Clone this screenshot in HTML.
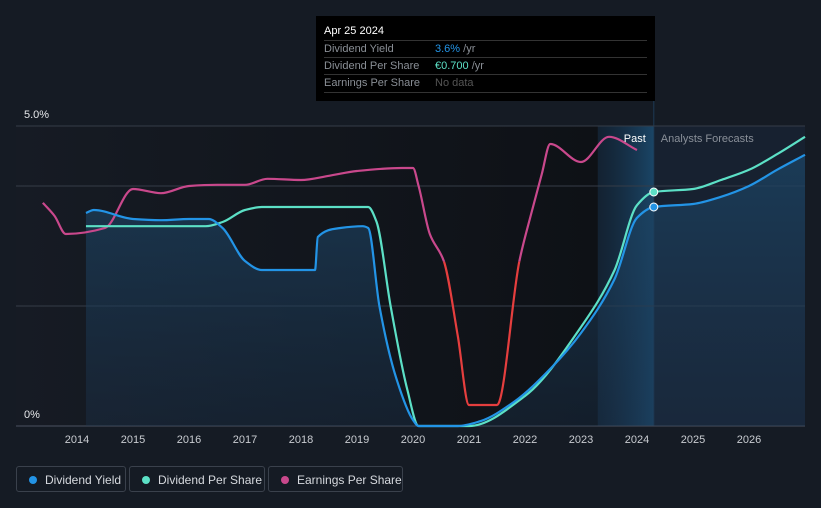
<!DOCTYPE html>
<html><head><meta charset="utf-8"><style>
body{margin:0;background:#151b24;width:821px;height:508px;overflow:hidden;font-family:"Liberation Sans",sans-serif}
#wrap{position:relative;width:821px;height:508px}
.tt{position:absolute;left:316px;top:16px;width:339px;height:85px;background:#000;color:#fff;font-size:11px}
.tt .h{position:absolute;left:8px;top:9px;font-size:11px}
.row{position:absolute;left:8px;width:323px;height:17px;border-top:1px solid #333;color:#8a8f96}
.row span{position:absolute;left:111px;top:2px}
.row b{font-weight:normal;position:absolute;left:0;top:2px}
.leg{position:absolute;top:466px;height:26px;border:1px solid #3a414c;border-radius:3px;color:#d6d9de;font-size:12px;line-height:26px;box-sizing:border-box}
.leg i{position:absolute;left:12px;top:9px;width:8px;height:8px;border-radius:50%}
.leg span{position:absolute;left:28px;top:0}
</style></head><body><div id="wrap">
<svg id="svg" width="821" height="508" style="position:absolute;left:0;top:0"></svg>
<div class="tt">
<div class="h">Apr 25 2024</div>
<div class="row" style="top:24px"><b>Dividend Yield</b><span><span style="position:static;color:#2394e6">3.6%</span> /yr</span></div>
<div class="row" style="top:41px"><b>Dividend Per Share</b><span><span style="position:static;color:#5ce0c6">€0.700</span> /yr</span></div>
<div class="row" style="top:58px;border-bottom:1px solid #333"><b>Earnings Per Share</b><span style="color:#555">No data</span></div>
</div>
<div class="leg" style="left:16px;width:110px"><i style="background:#2394e6"></i><span>Dividend Yield</span></div>
<div class="leg" style="left:129px;width:136px"><i style="background:#5ce0c6"></i><span>Dividend Per Share</span></div>
<div class="leg" style="left:268px;width:135px"><i style="background:#c9488c"></i><span>Earnings Per Share</span></div>
</div>
<script>
const yieldYears=[2014.16,2014.3,2015,2015.5,2016,2016.35,2016.6,2017,2017.3,2018.25,2018.3,2018.7,2019.1,2019.2,2019.4,2019.7,2020.0,2020.1,2020.8,2021.2,2021.8,2022.5,2023,2023.6,2024,2024.3,2025,2025.5,2026,2026.5,2027];
const yieldVals=[3.55,3.6,3.45,3.43,3.45,3.45,3.3,2.75,2.6,2.6,3.15,3.3,3.33,3.3,2.0,0.8,0.1,0,0,0.08,0.4,1.0,1.55,2.45,3.47,3.65,3.7,3.82,4.0,4.27,4.52];
const dpsYears=[2014.16,2016.3,2016.6,2017,2017.3,2019.2,2019.35,2019.6,2019.9,2020.1,2021,2022,2023,2023.6,2024,2024.3,2025,2025.5,2026,2026.5,2027];
const dpsVals=[3.33,3.33,3.4,3.6,3.65,3.65,3.4,2.0,0.6,0,0,0.5,1.65,2.6,3.68,3.9,3.95,4.1,4.27,4.53,4.82];
const epsYears=[2013.39,2013.6,2013.8,2014.5,2015,2015.5,2016,2016.5,2017,2017.4,2018,2018.5,2019,2019.8,2020,2020.1,2020.3,2020.55,2020.8,2021,2021.5,2021.9,2022.1,2022.3,2022.45,2023,2023.5,2024];
const epsVals=[3.72,3.5,3.2,3.3,3.95,3.88,4.0,4.02,4.02,4.12,4.1,4.17,4.25,4.3,4.3,4.0,3.2,2.75,1.5,0.35,0.35,2.75,3.5,4.2,4.7,4.4,4.82,4.6];
const xTicks=[2014,2015,2016,2017,2018,2019,2020,2021,2022,2023,2024,2025,2026];
const yTickVals=[5,0];const yTickLabels=["5.0%","0%"];
const gridVals=[5,4,2,0];
const nowYear=2024.3, pastStart=2023.3;
const X=y=>77+(y-2014)*56, Y=v=>426-v*60;
const NS="http://www.w3.org/2000/svg",svg=document.getElementById('svg');
function el(t,a,p){const e=document.createElementNS(NS,t);for(const k in a)e.setAttribute(k,a[k]);(p||svg).appendChild(e);return e;}
function path(xs,vs){const P=xs.map((x,i)=>[X(x),Y(vs[i])]);const n=P.length;
const d=[],m=[];for(let i=0;i<n-1;i++)d.push((P[i+1][1]-P[i][1])/(P[i+1][0]-P[i][0]));
for(let i=0;i<n;i++){if(i==0)m.push(d[0]);else if(i==n-1)m.push(d[n-2]);else if(d[i-1]*d[i]<=0)m.push(0);else{const h0=P[i][0]-P[i-1][0],h1=P[i+1][0]-P[i][0];const w1=2*h1+h0,w2=h1+2*h0;m.push((w1+w2)/(w1/d[i-1]+w2/d[i]));}}
let s=`M${P[0][0]},${P[0][1]}`;for(let i=0;i<n-1;i++){const h=(P[i+1][0]-P[i][0])/3;s+=`C${P[i][0]+h},${P[i][1]+m[i]*h} ${P[i+1][0]-h},${P[i+1][1]-m[i+1]*h} ${P[i+1][0]},${P[i+1][1]}`;}return s;}
const defs=el('defs',{});
defs.innerHTML='<linearGradient id="pg" x1="0" x2="1"><stop offset="0" stop-color="#161b24"/><stop offset="1" stop-color="#0e1116"/></linearGradient><linearGradient id="hl" x1="0" x2="1"><stop offset="0" stop-color="#12263a" stop-opacity=".6"/><stop offset="1" stop-color="#1a4566"/></linearGradient><linearGradient id="fa" x1="0" y1="0" x2="0" y2="1"><stop offset="0" stop-color="#1c4464" stop-opacity=".75"/><stop offset="1" stop-color="#1c3550" stop-opacity=".35"/></linearGradient><clipPath id="lo"><rect x="0" y="'+Y(2.74)+'" width="821" height="300"/></clipPath><clipPath id="hi"><rect x="0" y="0" width="821" height="'+Y(2.74)+'"/></clipPath>';
el('rect',{x:16,y:126,width:X(pastStart)-16,height:300,fill:'url(#pg)',});
el('rect',{x:X(pastStart),y:126,width:X(nowYear)-X(pastStart),height:300,fill:'url(#hl)',});
el('rect',{x:X(nowYear),y:126,width:805-X(nowYear),height:300,fill:'#172130',});
el('line',{x1:X(nowYear),x2:X(nowYear),y1:101,y2:426,stroke:'#1d3a55','stroke-width':1,});
gridVals.forEach(v=>{const l=el('line',{x1:16,x2:805,y1:Y(v),y2:Y(v),stroke:v==0?'#4a5260':'#353c47','stroke-width':1});});
const area=el('path',{d:path(yieldYears,yieldVals)+`L${X(yieldYears[yieldYears.length-1])},426L${X(yieldYears[0])},426Z`,fill:'url(#fa)'});

const ed=path(epsYears,epsVals);
let p=el('path',{d:ed,fill:'none',stroke:'#c9488c','stroke-width':2.2,'clip-path':'url(#hi)'});
p=el('path',{d:ed,fill:'none',stroke:'#e53e3e','stroke-width':2.2,'clip-path':'url(#lo)'});
p=el('path',{d:path(dpsYears,dpsVals),fill:'none',stroke:'#5ce0c6','stroke-width':2.2});
p=el('path',{d:path(yieldYears,yieldVals),fill:'none',stroke:'#2394e6','stroke-width':2.2});
const iy=yieldYears.indexOf(nowYear),idp=dpsYears.indexOf(nowYear);
p=el('circle',{cx:X(nowYear),cy:Y(dpsVals[idp]),r:4,fill:'#5ce0c6',stroke:'#fff','stroke-width':1});
p=el('circle',{cx:X(nowYear),cy:Y(yieldVals[iy]),r:4,fill:'#2394e6',stroke:'#fff','stroke-width':1});
xTicks.forEach(t=>{const e=el('text',{x:X(t),y:443,fill:'#c9ccd1','font-size':11,'text-anchor':'middle'});e.textContent=t;});
yTickVals.forEach((v,i)=>{const e=el('text',{x:24,y:Y(v)-8,fill:'#e6e8eb','font-size':11});e.textContent=yTickLabels[i];});
let t=el('text',{x:X(nowYear)-8,y:142,fill:'#fff','font-size':11,'text-anchor':'end'});t.textContent='Past';
t=el('text',{x:X(nowYear)+7,y:142,fill:'#8a9099','font-size':11});t.textContent='Analysts Forecasts';
</script></body></html>
